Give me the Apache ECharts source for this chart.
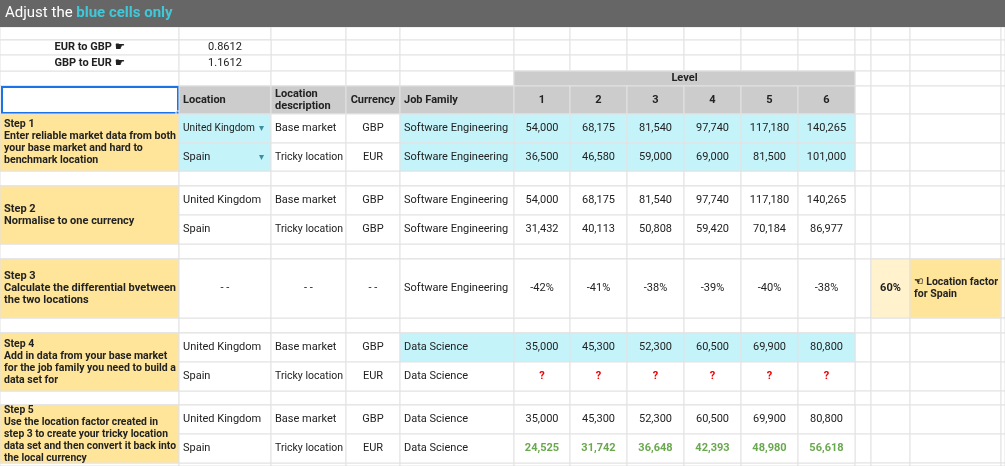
<!DOCTYPE html>
<html><head><meta charset="utf-8">
<script src="https://cdn.jsdelivr.net/npm/echarts@6/dist/echarts.min.js"></script>
<style>html,body{margin:0;padding:0;background:#fff}#c{width:1005px;height:466px}</style>
</head><body><div id="c"></div>
<script>
// ---- data ----
const levels = [1, 2, 3, 4, 5, 6];
const eurToGbp = 0.8612;
const gbpToEur = 1.1612;
const ukSoftwareGBP = [54000, 68175, 81540, 97740, 117180, 140265];
const spainSoftwareEUR = [36500, 46580, 59000, 69000, 81500, 101000];
const spainSoftwareGBP = [31432, 40113, 50808, 59420, 70184, 86977];
const differential = [-42, -41, -38, -39, -40, -38];
const locationFactor = 60;
const ukDataGBP = [35000, 45300, 52300, 60500, 69900, 80800];
const spainDataEUR = [24525, 31742, 36648, 42393, 48980, 56618];

// ---- layout ----
const colEdges = [0,179,271,346,400,514,570,627,684,741,798,855,871,910,1001,1005];
const rowEdges = [0,27,40,55,71,86,114,143,171,186,215,244,259,318,333,362,391,405,434,463,466];
const CY = '#c4f4fa', YEL = '#ffe599', LY = '#fff2cc', HG = '#cccccc';
const fmt = v => v.toLocaleString('en-US');

const cells = [];
function cell(c0, c1, r0, r1, t, o) { cells.push(Object.assign({c0, c1, r0, r1, t}, o || {})); }
for (let r = 1; r < rowEdges.length - 1; r++)
  for (let c = 0; c < colEdges.length - 1; c++) cell(c, c + 1, r, r + 1, '', {});
cell(0, 15, 0, 1, '', {fill: '#666666', title: true, noStroke: true});
cell(0, 1, 2, 3, 'EUR to GBP ☛', {bold: true, align: 'center'});
cell(1, 2, 2, 3, String(eurToGbp), {align: 'center'});
cell(0, 1, 3, 4, 'GBP to EUR ☛', {bold: true, align: 'center'});
cell(1, 2, 3, 4, String(gbpToEur), {align: 'center'});
cell(5, 11, 4, 5, 'Level', {fill: HG, bold: true, align: 'center'});
cell(0, 1, 5, 6, '', {selected: true});
cell(1, 2, 5, 6, 'Location', {fill: HG, bold: true});
cell(2, 3, 5, 6, 'Location\ndescription', {fill: HG, bold: true});
cell(3, 4, 5, 6, 'Currency', {fill: HG, bold: true, align: 'center'});
cell(4, 5, 5, 6, 'Job Family', {fill: HG, bold: true});
levels.forEach((l, i) => cell(5 + i, 6 + i, 5, 6, String(l), {fill: HG, bold: true, align: 'center'}));

function rowOf(r, loc, desc, cur, fam, vals, o) {
  o = o || {};
  cell(1, 2, r, r + 1, loc, {fill: o.locFill, drop: o.drop});
  cell(2, 3, r, r + 1, desc, {});
  cell(3, 4, r, r + 1, cur, {align: 'center'});
  cell(4, 5, r, r + 1, fam, {fill: o.famFill});
  vals.forEach((v, i) => cell(5 + i, 6 + i, r, r + 1, v, {fill: o.valFill, align: 'center', color: o.color, bold: o.bold}));
}
cell(0, 1, 6, 8, 'Step 1\nEnter reliable market data from both\nyour base market and hard to\nbenchmark location', {fill: YEL, bold: true});
rowOf(6, 'United Kingdom', 'Base market', 'GBP', 'Software Engineering', ukSoftwareGBP.map(fmt), {locFill: CY, famFill: CY, valFill: CY, drop: true});
rowOf(7, 'Spain', 'Tricky location', 'EUR', 'Software Engineering', spainSoftwareEUR.map(fmt), {locFill: CY, famFill: CY, valFill: CY, drop: true});
cell(0, 1, 9, 11, 'Step 2\nNormalise to one currency', {fill: YEL, bold: true});
rowOf(9, 'United Kingdom', 'Base market', 'GBP', 'Software Engineering', ukSoftwareGBP.map(fmt));
rowOf(10, 'Spain', 'Tricky location', 'GBP', 'Software Engineering', spainSoftwareGBP.map(fmt));
cell(0, 1, 12, 13, 'Step 3\nCalculate the differential bvetween\nthe two locations', {fill: YEL, bold: true});
cell(1, 2, 12, 13, '- -', {align: 'center'});
cell(2, 3, 12, 13, '- -', {align: 'center'});
cell(3, 4, 12, 13, '- -', {align: 'center'});
cell(4, 5, 12, 13, 'Software Engineering', {});
differential.forEach((v, i) => cell(5 + i, 6 + i, 12, 13, v + '%', {align: 'center'}));
cell(12, 13, 12, 13, locationFactor + '%', {fill: LY, bold: true, align: 'center'});
cell(13, 14, 12, 13, '☜ Location factor\nfor Spain', {fill: YEL, bold: true});
cell(0, 1, 14, 16, 'Step 4\nAdd in data from your base market\nfor the job family you need to build a\ndata set for', {fill: YEL, bold: true});
rowOf(14, 'United Kingdom', 'Base market', 'GBP', 'Data Science', ukDataGBP.map(fmt), {famFill: CY, valFill: CY});
rowOf(15, 'Spain', 'Tricky location', 'EUR', 'Data Science', levels.map(() => '?'), {color: '#ee0000', bold: true});
cell(0, 1, 17, 19, 'Step 5\nUse the location factor created in\nstep 3 to create your tricky location\ndata set and then convert it back into\nthe local currency', {fill: YEL, bold: true});
rowOf(17, 'United Kingdom', 'Base market', 'GBP', 'Data Science', ukDataGBP.map(fmt));
rowOf(18, 'Spain', 'Tricky location', 'EUR', 'Data Science', spainDataEUR.map(fmt), {color: '#6aa84f', bold: true});

const FONT = 'Roboto, "Noto Sans", sans-serif';
const mctx = document.createElement('canvas').getContext('2d');
function textWidth(t, font) { mctx.font = font; return Math.max(...t.split('\n').map(s => mctx.measureText(s).width)); }

function renderItem(params, api) {
  const c = cells[api.value(0)];
  const p0 = api.coord([colEdges[c.c0], rowEdges[c.r0]]);
  const p1 = api.coord([colEdges[c.c1], rowEdges[c.r1]]);
  const x = p0[0], y = p0[1], w = p1[0] - p0[0], h = p1[1] - p0[1];
  const ch = [];
  ch.push({type: 'rect', shape: {x, y, width: w, height: h},
    style: {fill: c.fill || '#fff', stroke: c.noStroke ? null : '#e2e2e2', lineWidth: 1}});
  if (c.title) {
    ch.push({type: 'text', x: 5, y: y + h / 2, style: {
      text: '{a|Adjust the }{b|blue cells only}', verticalAlign: 'middle',
      rich: {a: {fill: '#fff', fontSize: 15, fontFamily: FONT}, b: {fill: '#40c8d8', fontSize: 15, fontWeight: 'bold', fontFamily: FONT}}}});
  }
  if (c.selected) {
    ch.push({type: 'rect', shape: {x: x + 2, y: y + 1, width: w - 3, height: h - 2}, style: {fill: null, stroke: '#1a73e8', lineWidth: 2}});
    ch.push({type: 'rect', shape: {x: x + w - 3, y: y + h - 3, width: 5, height: 5}, style: {fill: '#1a73e8', stroke: '#fff', lineWidth: 1}});
  }
  if (c.t) {
    const align = c.align || 'left';
    const font = (c.bold ? 'bold ' : '') + '11px ' + FONT;
    const avail = w - (c.drop ? 20 : 7);
    const tw = textWidth(c.t, font);
    const sx = tw > avail ? avail / tw : 1;
    const tx = align === 'center' ? x + w / 2 : x + 4;
    ch.push({type: 'text', x: tx, y: y + h / 2, scaleX: sx, style: {
      text: c.t, align, verticalAlign: 'middle', fill: c.color || '#222',
      font, lineHeight: 12}});
  }
  if (c.drop) {
    ch.push({type: 'text', x: x + w - 10, y: y + h / 2, style: {text: '▾', align: 'center', verticalAlign: 'middle', fill: '#3a8fa0', font: '10px ' + FONT}});
  }
  return {type: 'group', children: ch};
}

const chart = echarts.init(document.getElementById('c'));
chart.setOption({
  animation: false,
  grid: {left: 0, right: 0, top: 0, bottom: 0},
  xAxis: {type: 'value', min: 0, max: 1005, show: false},
  yAxis: {type: 'value', min: 0, max: 466, inverse: true, show: false},
  series: [{type: 'custom', renderItem, data: cells.map((c, i) => [i]), clip: false}]
});
</script></body></html>
